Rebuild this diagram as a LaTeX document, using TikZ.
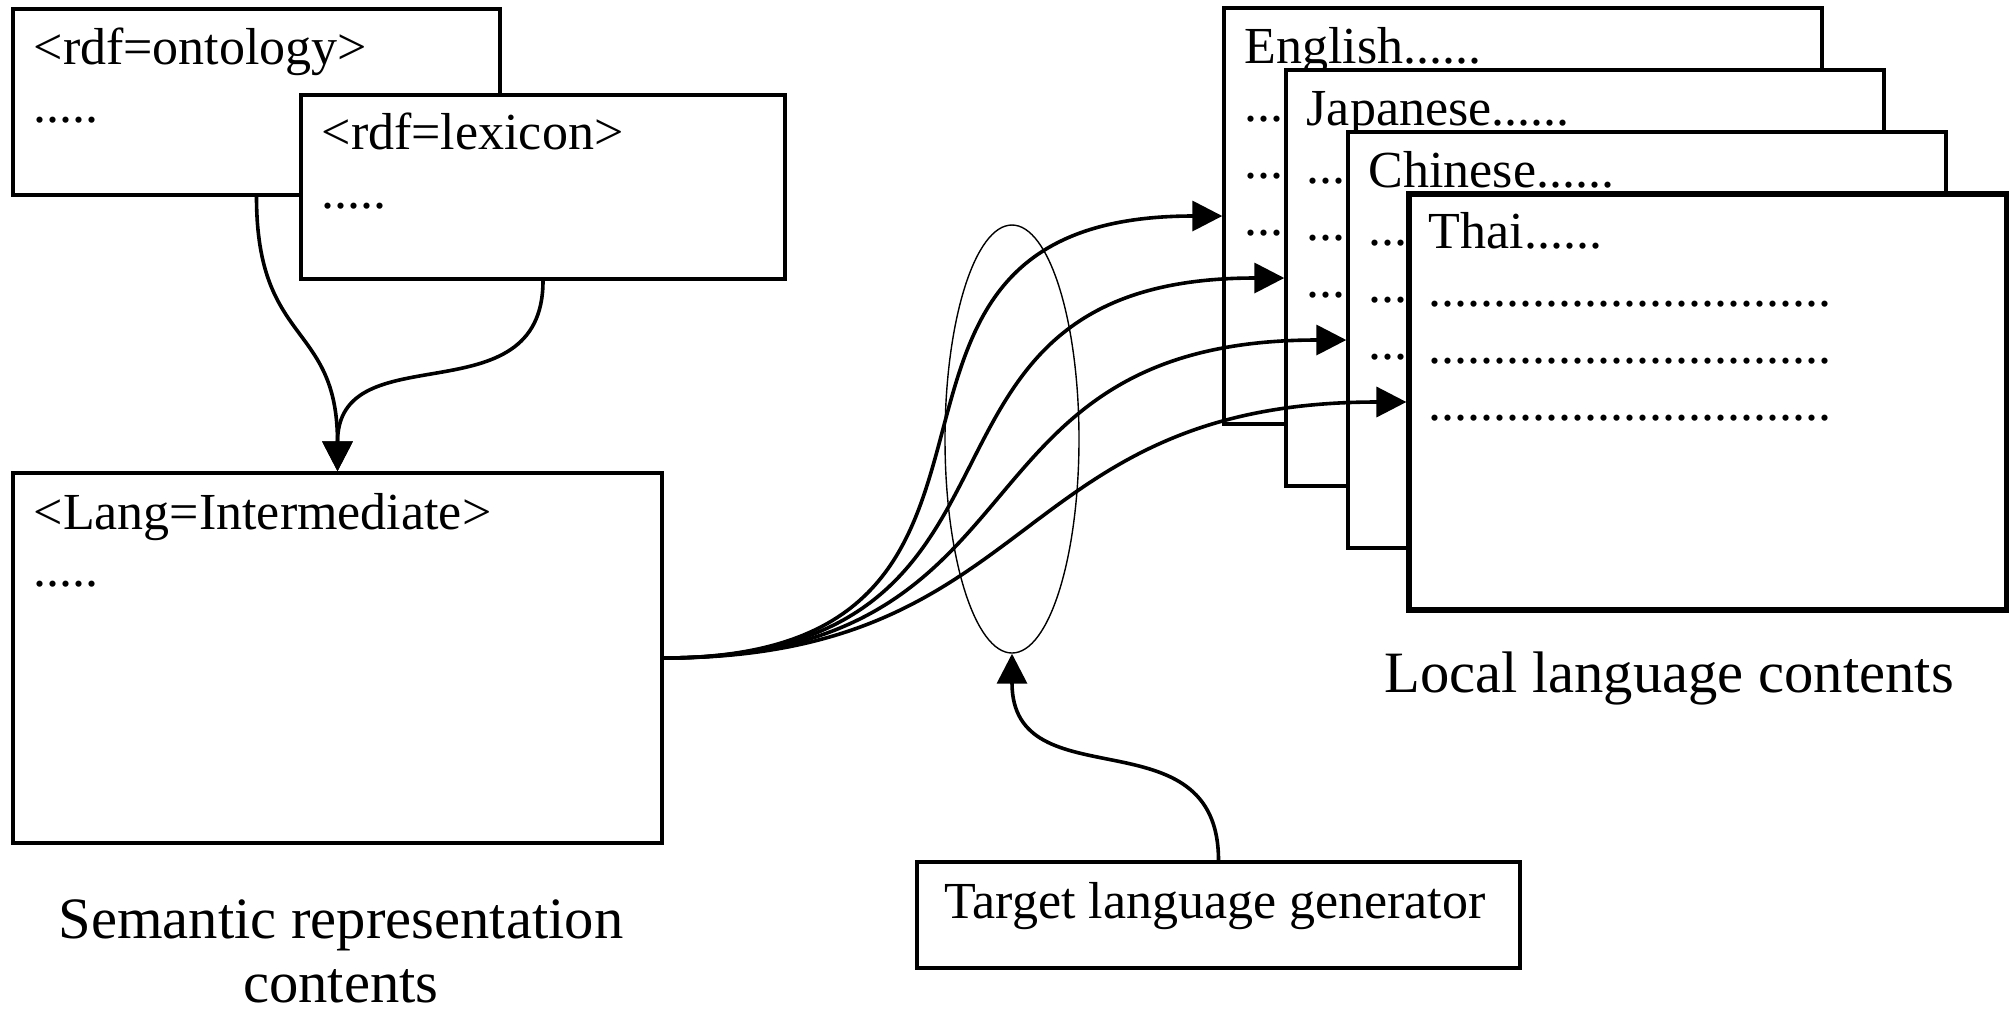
\documentclass[tikz,border=0pt]{standalone}
\usepackage{fontspec}
\setmainfont{Liberation Serif}
\usetikzlibrary{arrows.meta,shapes.geometric}
\newcommand{\dotrow}{...............................}
\begin{document}
\begin{tikzpicture}[x=0.5pt,y=-0.5pt,
  box/.style={draw, line width=1.7pt, fill=white, rectangle, inner sep=0pt},
  langbox/.style={box, minimum width=299pt, minimum height=208pt},
  boxtext/.style={anchor=base west, inner sep=0pt, font=\fontsize{26}{28}\selectfont},
  lbl/.style={anchor=base, inner sep=0pt, font=\fontsize{29.3}{33}\selectfont},
  conn/.style={line width=1.8pt, -{Triangle[length=15pt,width=15pt]}},
]
\useasboundingbox (0,0) rectangle (2009,1014);

% left boxes
\node[box, minimum width=243.5pt, minimum height=93pt] (ont) at (256.5,102) {};
\node[boxtext] (ontT) at ([shift={(22,57)}]ont.north west) {<rdf=ontology>};
\node[boxtext] (ontD) at ([shift={(22,115)}]ont.north west) {.....};

\node[box, minimum width=242pt, minimum height=92pt] (lex) at (543,187) {};
\node[boxtext] (lexT) at ([shift={(22,56)}]lex.north west) {<rdf=lexicon>};
\node[boxtext] (lexD) at ([shift={(22,115)}]lex.north west) {.....};

\node[box, minimum width=324.5pt, minimum height=185pt] (inter) at (337.5,658) {};
\node[boxtext] (interT) at ([shift={(22,58)}]inter.north west) {<Lang=Intermediate>};
\node[boxtext] (interD) at ([shift={(22,115)}]inter.north west) {.....};

\node[lbl] (sem1) at (341,938) {Semantic representation};
\node[lbl] (sem2) at (341,1002) {contents};

% language boxes (only the visible part of each covered dot row is set)
\node[langbox] (eng) at (1523,216) {};
\node[boxtext] (engT) at ([shift={(22,57)}]eng.north west) {English......};
\node[boxtext] (engD1) at ([shift={(22,115)}]eng.north west) {...};
\node[boxtext] (engD2) at ([shift={(22,172)}]eng.north west) {...};
\node[boxtext] (engD3) at ([shift={(22,229)}]eng.north west) {...};

\node[langbox] (jap) at (1585,278) {};
\node[boxtext] (japT) at ([shift={(22,57)}]jap.north west) {Japanese......};
\node[boxtext] (japD1) at ([shift={(22,115)}]jap.north west) {...};
\node[boxtext] (japD2) at ([shift={(22,172)}]jap.north west) {...};
\node[boxtext] (japD3) at ([shift={(22,229)}]jap.north west) {...};

\node[langbox] (chi) at (1647,340) {};
\node[boxtext] (chiT) at ([shift={(22,57)}]chi.north west) {Chinese......};
\node[boxtext] (chiD1) at ([shift={(22,115)}]chi.north west) {...};
\node[boxtext] (chiD2) at ([shift={(22,172)}]chi.north west) {...};
\node[boxtext] (chiD3) at ([shift={(22,229)}]chi.north west) {...};

\node[langbox, line width=2.6pt] (thai) at (1708,402) {};
\node[boxtext] (thaiT) at ([shift={(22,57)}]thai.north west) {Thai......};
\node[boxtext] (thaiD1) at ([shift={(22,115)}]thai.north west) {\dotrow};
\node[boxtext] (thaiD2) at ([shift={(22,172)}]thai.north west) {\dotrow};
\node[boxtext] (thaiD3) at ([shift={(22,229)}]thai.north west) {\dotrow};

\node[lbl] (local) at (1669,692) {Local language contents};

% generator
\node[draw, ellipse, line width=0.7pt, minimum width=67pt, minimum height=214pt, inner sep=0pt] (ell) at (1012,439) {};
\node[box, minimum width=301.5pt, minimum height=53pt] (gen) at (1218.5,915) {};
\node[boxtext, anchor=base] (genT) at (1215,918) {Target language generator};

% connectors
\draw[conn] (ont.south) .. controls +(0,150) and +(0,-150) .. (inter.north);
\draw[conn] (lex.south) .. controls +(0,140) and +(0,-140) .. (inter.north);
\draw[conn] (inter.east) .. controls +(428,0) and +(-424,0) .. (eng.west);
\draw[conn] (inter.east) .. controls +(411,0) and +(-415,0) .. (jap.west);
\draw[conn] (inter.east) .. controls +(395,0) and +(-406,0) .. (chi.west);
\draw[conn] (inter.east) .. controls +(378,0) and +(-398,0) .. (thai.west);
\draw[conn] (gen.north) .. controls +(0,-150) and +(0,150) .. (ell.south);
\end{tikzpicture}
\end{document}
